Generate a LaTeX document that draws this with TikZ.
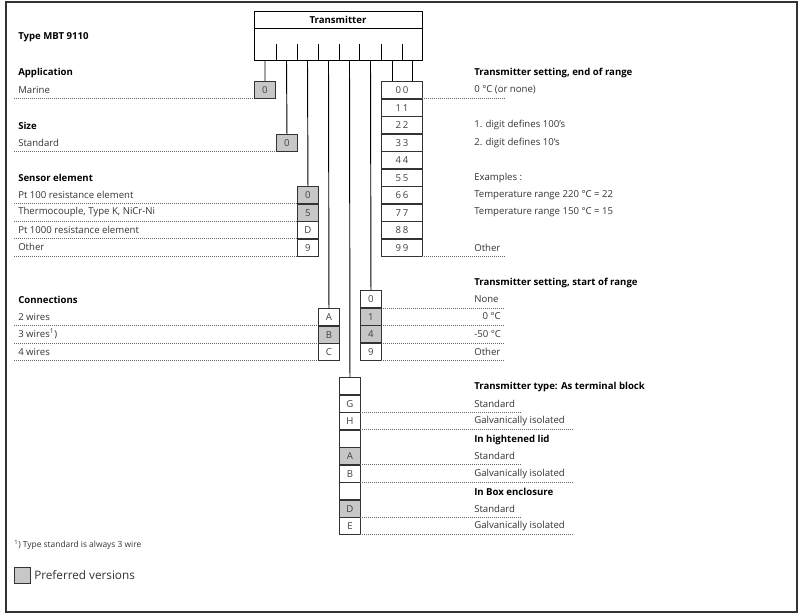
\documentclass[tikz,border=0pt]{standalone}
\usepackage{fontspec}
\setmainfont{Open Sans}
\begin{document}
\begin{tikzpicture}[x=0.75pt,y=-0.75pt,
  cell/.style={draw=black!80,line width=0.7pt,anchor=north west,minimum width=15.75pt,minimum height=13.1pt,inner sep=0pt,font=\fontsize{7.2}{9}\selectfont,text=black!75},
  wcell/.style={cell,minimum width=30.75pt},
  pref/.style={fill=black!22},
  lbl/.style={anchor=west,inner sep=0pt,font=\fontsize{7.2}{9}\selectfont,text=black!80},
  hd/.style={anchor=west,inner sep=0pt,font=\bfseries\fontsize{7.2}{9}\selectfont},
  dl/.style={densely dotted,black!60,line width=0.5pt},
  conn/.style={black,line width=0.7pt}]
\useasboundingbox (0,0) rectangle (802,615);
\draw[black!80,line width=0.8pt] (6,2) rectangle (797,612);
% transmitter box
\node[draw,line width=0.8pt,anchor=north west,minimum width=126pt,minimum height=36.75pt,inner sep=0pt] (tx) at (254,11) {};
\draw[line width=0.7pt] (254,28) -- (422,28);
\node[font=\bfseries\fontsize{7.2}{9}\selectfont] (txt) at (338,20) {Transmitter};
\foreach \x in {276,297,318,339,359,381,402} \draw[line width=0.6pt] (\x,44) -- (\x,60);
\node[hd] (type) at (18,37) {Type MBT 9110};
% application
\node[hd] (happ) at (18,73) {Application};
\node[cell,pref] (app) at (254,81) {0};
\node[lbl] (lapp) at (18,90) {Marine};
\draw[dl] (14,98) -- (254,98);
\draw[conn] (265,60) -- (app.north);
% size
\node[hd] (hsize) at (18,126) {Size};
\node[cell,pref] (size) at (276,134) {0};
\node[lbl] (lsize) at (18,143) {Standard};
\draw[dl] (14,151) -- (276,151);
\draw[conn] (286.5,60) -- (size.north);
% sensor
\node[hd] (hsen) at (18,178) {Sensor element};
\foreach \i/\t/\s/\l in {0/0/pref/Pt 100 resistance element,1/5/pref/{Thermocouple, Type K, NiCr-Ni},2/D//Pt 1000 resistance element,3/9//Other}{
  \node[cell,\s] (sen\i) at (297,186+17.5*\i) {\t};
  \node[lbl] (lsen\i) at (18,194.75+17.5*\i) {\l};
  \draw[dl] (14,203.5+17.5*\i) -- (297,203.5+17.5*\i);
}
\draw[conn] (307.5,60) -- (sen0.north);
% connections
\node[hd] (hcon) at (18,300) {Connections};
\foreach \i/\t/\s/\l in {0/A//2 wires,1/B/pref/{3 wires\textsuperscript{1})},2/C//4 wires}{
  \node[cell,\s] (con\i) at (318,308+17.5*\i) {\t};
  \node[lbl] (lcon\i) at (18,316.75+17.5*\i) {\l};
  \draw[dl] (14,325.5+17.5*\i) -- (318,325.5+17.5*\i);
}
\draw[conn] (328.5,60) -- (con0.north);
% end of range
\node[hd] (hend) at (474,73) {Transmitter setting, end of range};
\foreach \i in {0,...,9}{
  \node[wcell] (end\i) at (381,81+17.5*\i) {\i\,\i};
}
\draw[conn] (392,60) -- (392,81);
\draw[conn] (412,60) -- (412,81);
\node[lbl] (le0) at (474,90) {0 °C (or none)};
\node[lbl] (le2) at (474,125) {1. digit defines 100's};
\node[lbl] (le3) at (474,142.5) {2. digit defines 10's};
\node[lbl] (le5) at (474,177.5) {Examples :};
\node[lbl] (le6) at (474,195) {Temperature range 220 °C = 22};
\node[lbl] (le7) at (474,212.5) {Temperature range 150 °C = 15};
\node[lbl] (le9) at (474,247.5) {Other};
\draw[dl] (422,98.5) -- (505,98.5);
\draw[dl] (422,256) -- (505,256);
% start of range
\node[hd] (hstart) at (474,283) {Transmitter setting, start of range};
\foreach \i/\t/\s in {0/0/,1/1/pref,2/4/pref,3/9/}{
  \node[cell,\s] (st\i) at (360,290+17.5*\i) {\t};
  \draw[dl] (381,308+17.5*\i) -- (505,308+17.5*\i);
}
\node[lbl] (ls0) at (474,299) {None};
\node[lbl,anchor=east] (ls1) at (501,316.5) {0 °C};
\node[lbl] (ls2) at (474,334) {-50 °C};
\node[lbl] (ls3) at (474,351.5) {Other};
\draw[conn] (370.5,60) -- (st0.north);
% terminal type
\node[hd] (hterm) at (474,387) {Transmitter type: As terminal block};
\node[hd] (hlid) at (474,439.5) {In hightened lid};
\node[hd] (hbox) at (474,492) {In Box enclosure};
\foreach \i/\t/\s in {0//,1/G/,2/H/,3//,4/A/pref,5/B/,6//,7/D/pref,8/E/}{
  \node[cell,\s] (tt\i) at (339,377+17.5*\i) {\t};
}
\draw[conn] (349.5,60) -- (tt0.north);
\foreach \i in {1,4,7}{
  \node[lbl] (lst\i) at (474,386+17.5*\i) {Standard};
  \draw[dl] (360,394.5+17.5*\i) -- (522,394.5+17.5*\i);
}
\foreach \i in {2,5,8}{
  \node[lbl] (lga\i) at (474,386+17.5*\i) {Galvanically isolated};
  \draw[dl] (360,394.5+17.5*\i) -- (574,394.5+17.5*\i);
}
% footnote and legend
\node[lbl,font=\fontsize{6.3}{8}\selectfont] (foot) at (14,545) {\textsuperscript{1}) Type standard is always 3 wire};
\node[draw=black!80,fill=black!22,line width=0.7pt,anchor=north west,minimum width=12pt,minimum height=12pt,inner sep=0pt] (leg) at (14,567) {};
\node[lbl,font=\fontsize{8.8}{11}\selectfont] (legt) at (34,575) {Preferred versions};
\end{tikzpicture}
\end{document}
